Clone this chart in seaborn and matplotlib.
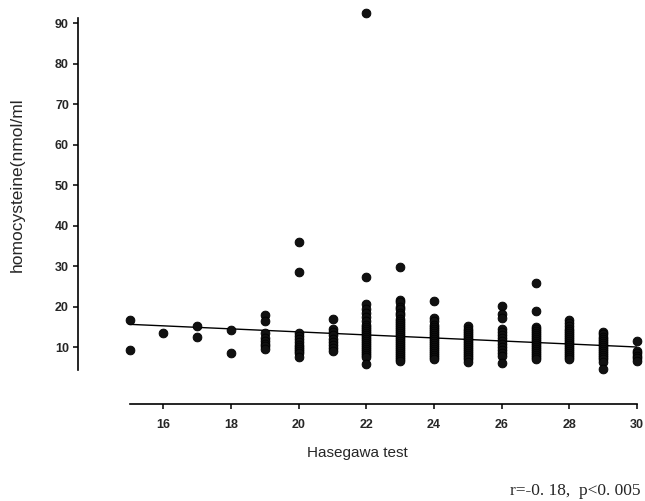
"""
Homocysteine vs Hasegawa test score scatter with linear fit.
"""

import matplotlib
matplotlib.use("Agg")
import matplotlib.pyplot as plt
import seaborn as sns
import pandas as pd

# homocysteine values (nmol/ml) read per Hasegawa score
hcy_15 = [16.7, 9.3]
hcy_16 = [13.4]
hcy_17 = [15.2, 12.4]
hcy_18 = [14.2, 8.4]
hcy_19 = [18.0, 16.5, 13.5, 12.3, 11.5, 10.8, 10.2, 9.6]
hcy_20 = [36.0, 28.5, 13.5, 12.8, 12.0, 11.2, 10.5, 10.0, 9.5, 9.0, 8.5, 7.5]
hcy_21 = [16.8, 14.5, 13.8, 13.0, 12.0, 11.2, 10.5, 9.8, 9.0]
hcy_22 = [92.4, 27.3, 20.5, 19.5, 18.5, 17.5, 16.5, 15.5, 15.0, 14.5, 14.0,
          13.5, 13.0, 12.5, 12.0, 11.5, 11.0, 10.5, 10.0, 9.5, 9.0, 8.5,
          8.0, 7.5, 5.8]
hcy_23 = [29.8, 21.5, 21.0, 20.0, 19.5, 18.5, 18.0, 17.0, 16.5, 16.0, 15.5,
          15.0, 14.5, 14.0, 13.5, 13.0, 12.5, 12.0, 11.5, 11.0, 10.5, 10.0,
          9.5, 9.0, 8.5, 8.0, 7.5, 7.0, 6.6]
hcy_24 = [21.4, 17.2, 16.5, 15.5, 15.0, 14.5, 14.0, 13.5, 13.0, 12.5, 12.0,
          11.5, 11.0, 10.5, 10.0, 9.5, 9.0, 8.5, 8.0, 7.5, 7.0]
hcy_25 = [15.2, 14.5, 14.0, 13.5, 13.0, 12.5, 12.0, 11.5, 11.0, 10.5, 10.0,
          9.5, 9.0, 8.5, 8.0, 7.5, 7.0, 6.3]
hcy_26 = [20.2, 18.2, 17.2, 14.5, 13.8, 13.0, 12.2, 11.5, 10.8, 10.0, 9.3,
          8.5, 7.8, 6.1]
hcy_27 = [25.8, 18.8, 15.0, 14.5, 14.0, 13.5, 13.0, 12.5, 12.0, 11.5, 11.0,
          10.5, 10.0, 9.5, 9.0, 8.5, 8.0, 7.5, 7.0]
hcy_28 = [16.6, 16.0, 15.2, 14.5, 14.0, 13.5, 13.0, 12.5, 12.0, 11.5, 11.0,
          10.5, 10.0, 9.5, 9.0, 8.5, 8.0, 7.5, 7.1]
hcy_29 = [13.8, 13.2, 12.5, 12.0, 11.5, 11.0, 10.5, 10.0, 9.5, 9.0, 8.5,
          8.0, 7.5, 7.0, 6.3, 4.6]
hcy_30 = [11.6, 9.0, 8.4, 7.8, 7.2, 6.6]

scores = list(range(15, 31))
columns = [hcy_15, hcy_16, hcy_17, hcy_18, hcy_19, hcy_20, hcy_21, hcy_22,
           hcy_23, hcy_24, hcy_25, hcy_26, hcy_27, hcy_28, hcy_29, hcy_30]

# regression line end points
fit_x = [15, 30]
fit_y = [15.6, 10.0]

x_ticks = [16, 18, 20, 22, 24, 26, 28, 30]
y_ticks = [10, 20, 30, 40, 50, 60, 70, 80, 90]

rows = [(s, v) for s, vals in zip(scores, columns) for v in vals]
df = pd.DataFrame(rows, columns=["score", "hcy"])
fit_df = pd.DataFrame({"score": fit_x, "hcy": fit_y})

sns.set_style("white")
plt.rcParams["font.family"] = ["Liberation Sans", "DejaVu Sans"]

fig = plt.figure(figsize=(6.45, 5.01), dpi=100)
ax = fig.add_axes([78 / 645, 97 / 501, (637 - 78) / 645, (404 - 13) / 501])

sns.lineplot(data=fit_df, x="score", y="hcy", color="black", linewidth=1.0,
             ax=ax)
sns.scatterplot(data=df, x="score", y="hcy", color="#111111",
                edgecolor="black", linewidth=0.6, s=40, clip_on=False,
                zorder=3, ax=ax)

ax.set_xlim(13.476, 30.0)
ax.set_ylim(-4.07, 92.47)
ax.set_xticks(x_ticks)
ax.set_yticks(y_ticks)
ax.tick_params(axis="both", direction="out", length=3.5, width=1.1,
               color="black", labelsize=9, bottom=True, left=True)
ax.tick_params(axis="x", pad=7)
ax.tick_params(axis="y", pad=3)
for lab in ax.get_xticklabels() + ax.get_yticklabels():
    lab.set_fontweight("bold")

for side in ["top", "right"]:
    ax.spines[side].set_visible(False)
for side in ["left", "bottom"]:
    ax.spines[side].set_color("black")
    ax.spines[side].set_linewidth(1.2)
ax.spines["left"].set_bounds(4.3, 91.3)
ax.spines["bottom"].set_bounds(15, 30)

ax.set_xlabel("Hasegawa test", fontsize=11, labelpad=11)
ax.set_ylabel("homocysteine(nmol/ml", fontsize=12.5)
ax.yaxis.set_label_coords(-0.095, 0.56)

fig.text(0.993, 0.004, "r=-0. 18,  p<0. 005", ha="right", va="bottom",
         fontsize=12.5, family=["Liberation Serif", "DejaVu Serif"])

fig.savefig("out.png", dpi=100)
plt.close(fig)
